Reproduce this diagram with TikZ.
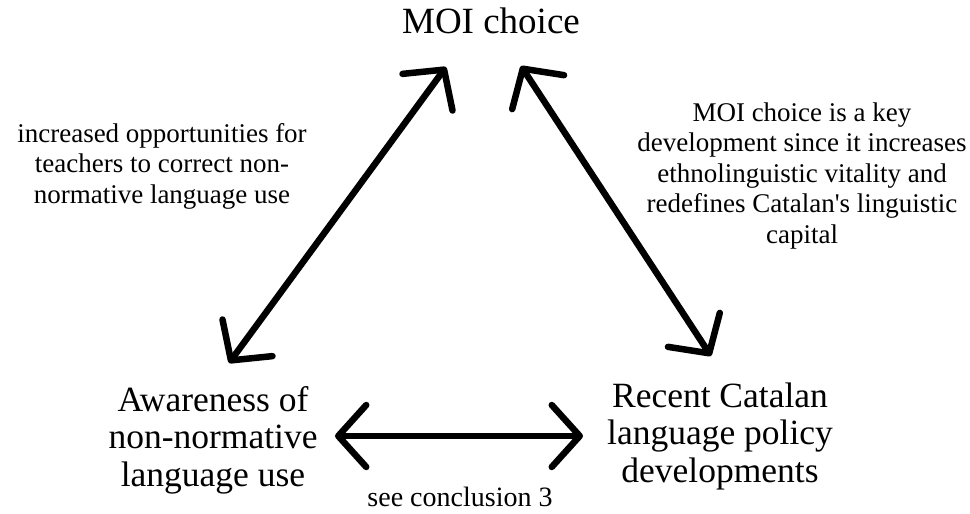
\documentclass[tikz,border=0pt]{standalone}
\usepackage{fontspec}
\setmainfont{Liberation Serif}[Ligatures=TeXOff]
\usetikzlibrary{arrows.meta}
\begin{document}
\begin{tikzpicture}[x=1pt,y=-1pt,
  big/.style={font=\fontsize{35.5}{37.5}\selectfont, align=center, inner sep=0pt},
  small/.style={font=\fontsize{27}{30.5}\selectfont, align=center, inner sep=0pt},
  link/.style={line width=6.5pt, line cap=round, line join=round,
    {Straight Barb[length=28pt,width=62pt,line width=6.5pt,round]}-{Straight Barb[length=28pt,width=62pt,line width=6.5pt,round]}}]
\useasboundingbox (0,0) rectangle (970,514);
\node[big, anchor=base, font=\fontsize{37}{39}\selectfont] (moi) at (491,33) {MOI choice};
\node[big] (aware) at (213,440) {Awareness of\\non-normative\\language use};
\node[big] (recent) at (720,436) {Recent Catalan\\language policy\\developments};
\node[small] (ltext) at (162,166) {increased opportunities for\\teachers to correct non-\\normative language use};
\node[small] (rtext) at (802,176) {MOI choice is a key\\development since it increases\\ethnolinguistic vitality and\\redefines Catalan's linguistic\\capital};
\node[small, font=\fontsize{28}{30}\selectfont] (see) at (460,497) {see conclusion 3};
\coordinate (l1) at (229,363);
\coordinate (l2) at (446,67);
\coordinate (r1) at (521,66);
\coordinate (r2) at (711,356);
\coordinate (h1) at (335,436);
\coordinate (h2) at (583,436);
\draw[link] (l1) -- (l2);
\draw[link] (r1) -- (r2);
\draw[link] (h1) -- (h2);
\end{tikzpicture}
\end{document}
